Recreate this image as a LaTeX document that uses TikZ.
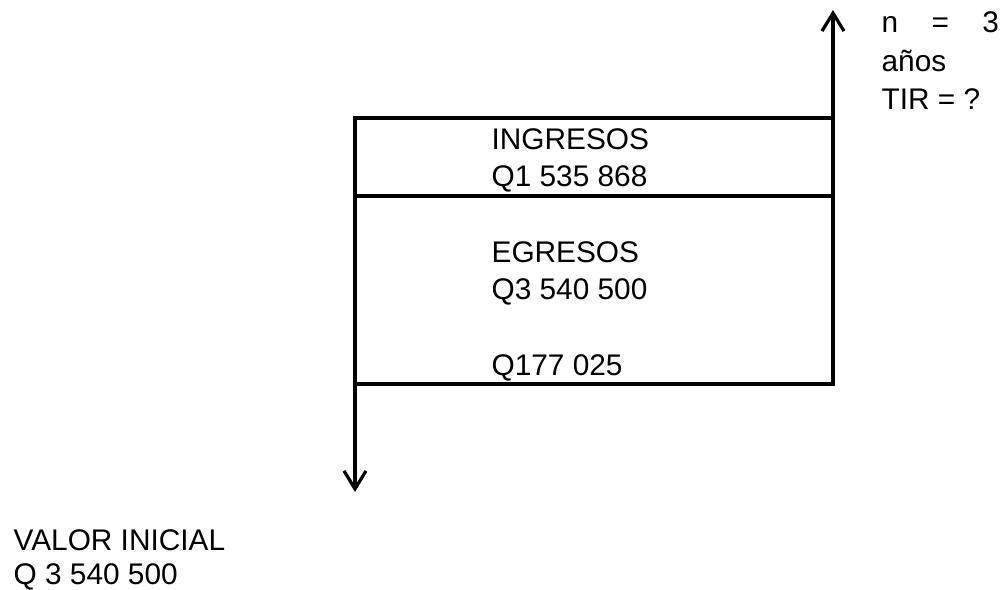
\documentclass[tikz,border=0pt]{standalone}
\usepackage{fontspec}
\setmainfont{Liberation Sans}
\usetikzlibrary{arrows.meta}

\begin{document}
\begin{tikzpicture}[x=0.025cm, y=-0.025cm, line width=2.3pt,
	>={Straight Barb[length=4.5mm, width=5.5mm]},
	txt/.style={anchor=base west, inner sep=0pt, font=\fontsize{21.2}{26}\selectfont}]
	\useasboundingbox (0, 0) rectangle (1006, 590);
	
	\coordinate (tl) at (355, 118);
	\coordinate (tr) at (833, 118);
	\coordinate (ml) at (355, 196);
	\coordinate (mr) at (833, 196);
	\coordinate (bl) at (355, 384);
	\coordinate (br) at (833, 384);
	\coordinate (abajo) at (355, 492);
	\coordinate (arriba) at (833, 10);
	
	\draw[->] (tr) -- (tl) -- (abajo); % Flecha hacia abajo
	\draw[->] (bl) -- (br) -- (arriba); % Flecha hacia arriba
	\draw (ml) -- (mr);
	
	\node[txt] (ing) at (490, 150) {INGRESOS};
	\node[txt] (ingq) at (490, 187) {Q1 535 868};
	\node[txt] (egr) at (490, 263) {EGRESOS};
	\node[txt] (egrq) at (490, 300) {Q3 540 500};
	\node[txt] (res) at (490, 375) {Q177 025};
	
	\node[txt] (val) at (12, 550) {VALOR INICIAL};
	\node[txt] (valq) at (12, 584) {Q 3 540 500};
	
	\node[txt] (n) at (880, 33) {\makebox[2.93cm][s]{n = 3}};
	\node[txt] (anos) at (880, 72) {años};
	\node[txt] (tir) at (880, 110) {TIR = ?};
\end{tikzpicture}
\end{document}
